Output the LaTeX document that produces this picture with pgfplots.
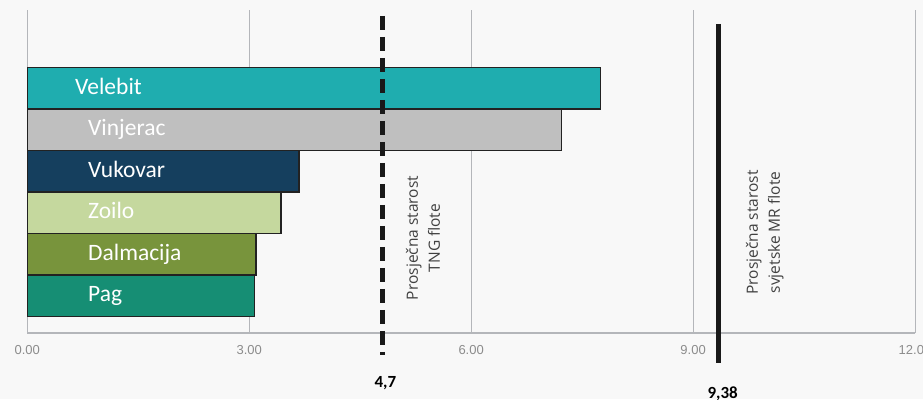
\documentclass[border=0pt]{standalone}
\usepackage{pgfplots}
\pgfplotsset{compat=1.18}
\usepackage{fontspec}
\setmainfont{Open Sans}
\newfontfamily\carlito{Carlito}
\newfontfamily\libsans{Liberation Sans}
\definecolor{bg}{HTML}{F8F8F8}
\definecolor{gridc}{HTML}{B4B6BA}
\definecolor{tickc}{HTML}{8C8C8C}
\definecolor{txtc}{HTML}{404040}
\definecolor{barline}{HTML}{222222}
\definecolor{cVelebit}{HTML}{1FADAF}
\definecolor{cVinjerac}{HTML}{BFBFBF}
\definecolor{cVukovar}{HTML}{153F5E}
\definecolor{cZoilo}{HTML}{C5D89E}
\definecolor{cDalmacija}{HTML}{78943C}
\definecolor{cPag}{HTML}{168E74}
\begin{document}
\begin{tikzpicture}
\fill[bg] (0pt,0pt) rectangle (923pt,399pt);
\begin{axis}[
  at={(27.3pt,66pt)}, anchor=south west,
  scale only axis, width=887.7pt, height=323pt,
  xmin=0, xmax=12, ymin=-0.892, ymax=6.891,
  xtick={0,3,6,9,12}, xticklabels={0.00,3.00,6.00,9.00,12.00},
  ytick=\empty,
  axis x line*=bottom, axis y line=none,
  axis line style={-, gridc, line width=1.2pt},
  xmajorgrids, grid style={gridc, line width=1pt},
  major tick length=0pt,
  xticklabel style={font=\libsans\fontsize{13}{15}\selectfont, text=tickc, inner sep=0pt, yshift=-12pt},
  clip=false,
  bar width=1,
]
\addplot[xbar, bar shift=0pt, fill=cPag, draw=barline, line width=1.5pt] coordinates {(3.07,0)};
\addplot[xbar, bar shift=0pt, fill=cDalmacija, draw=barline, line width=1.5pt] coordinates {(3.09,1)};
\addplot[xbar, bar shift=0pt, fill=cZoilo, draw=barline, line width=1.5pt] coordinates {(3.43,2)};
\addplot[xbar, bar shift=0pt, fill=cVukovar, draw=barline, line width=1.5pt] coordinates {(3.67,3)};
\addplot[xbar, bar shift=0pt, fill=cVinjerac, draw=barline, line width=1.5pt] coordinates {(7.22,4)};
\addplot[xbar, bar shift=0pt, fill=cVelebit, draw=barline, line width=1.5pt] coordinates {(7.75,5)};

\addplot[sharp plot, draw=black!90, line width=5pt, dash pattern=on 14pt off 7pt] coordinates {(4.8,6.747) (4.8,-1.422)};
\addplot[sharp plot, draw=black!90, line width=5pt] coordinates {(9.35,6.554) (9.35,-1.615)};

\begin{scope}[every node/.style={anchor=base west, inner sep=0pt, text=white, font=\carlito\fontsize{23.5}{26}\selectfont}]
\node at (axis cs:0.645,4.855) {Velebit};
\node at (axis cs:0.82,3.855) {Vinjerac};
\node at (axis cs:0.82,2.855) {Vukovar};
\node at (axis cs:0.82,1.855) {Zoilo};
\node at (axis cs:0.82,0.855) {Dalmacija};
\node at (axis cs:0.82,-0.145) {Pag};
\end{scope}

\node[rotate=90, align=center, text=txtc, inner sep=0pt, font=\fontsize{15.5}{22}\selectfont] at (axis cs:5.35,1.397) {Prosječna starost\\TNG flote};
\node[rotate=90, align=center, text=txtc, inner sep=0pt, font=\fontsize{15.5}{22}\selectfont] at (axis cs:9.97,1.53) {Prosječna starost\\svjetske MR flote};

\node[anchor=base, inner sep=0pt, font=\carlito\bfseries\fontsize{17}{20}\selectfont] at (axis cs:4.84,-2.217) {4,7};
\node[anchor=base, inner sep=0pt, font=\carlito\bfseries\fontsize{17}{20}\selectfont] at (axis cs:9.40,-2.475) {9,38};
\end{axis}
\pgfresetboundingbox
\useasboundingbox (0pt,0pt) rectangle (923pt,399pt);
\end{tikzpicture}
\end{document}
